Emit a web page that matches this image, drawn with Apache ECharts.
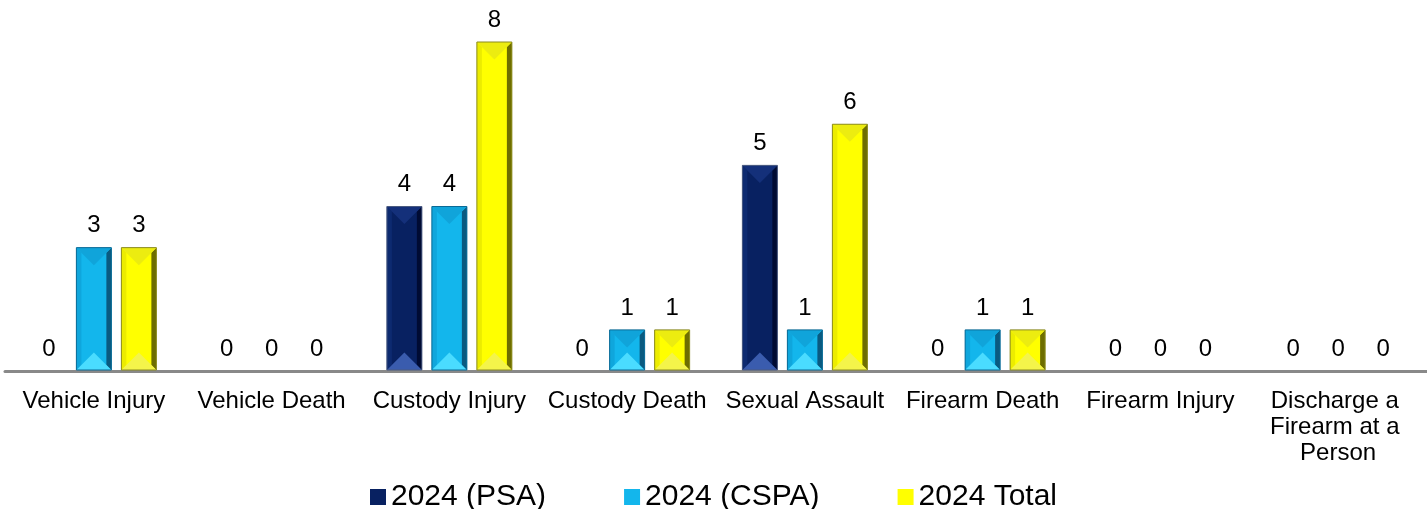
<!DOCTYPE html>
<html>
<head>
<meta charset="utf-8">
<script src="https://cdn.jsdelivr.net/npm/echarts@6/dist/echarts.min.js"></script>
<style>
  html, body { margin: 0; padding: 0; background: #fff; }
  #chart { width: 1427px; height: 509px; }
</style>
</head>
<body>
<div id="chart"></div>
<script>
const categories = ['Vehicle Injury', 'Vehicle Death', 'Custody Injury', 'Custody Death',
  'Sexual Assault', 'Firearm Death', 'Firearm Injury', 'Discharge a Firearm at a Person']
const psa = [0, 0, 4, 0, 5, 0, 0, 0]
const cspa = [3, 0, 4, 1, 1, 1, 0, 0]
const total = [3, 0, 8, 1, 6, 1, 0, 0]
const seriesNames = ['2024 (PSA)', '2024 (CSPA)', '2024 Total']

const FONT = 'Arial, "Liberation Sans", sans-serif'

// bevel colours: face, left strip, right strip, top triangle, bottom triangle, edge
const palettes = [
  { face: '#082161', left: '#0d2a70', right: '#000b33', top: '#14307a', bottom: '#3a5cae', edge: '#4a5a80' },
  { face: '#13b6ec', left: '#0fa6dc', right: '#0a5a80', top: '#10a4da', bottom: '#4adcff', edge: '#0a6a96' },
  { face: '#ffff00', left: '#ecec00', right: '#6e6e00', top: '#ecec10', bottom: '#f4f44a', edge: '#8a8a20' }
]

const BAR_W = 35
const STEP = 45

// 带斜面效果的柱子
const makeRender = (idx) => (params, api) => {
  const cat = api.value(0)
  const val = api.value(1)
  const p = palettes[idx]
  const base = api.coord([cat, 0])
  const topPt = api.coord([cat, val])
  const xm = base[0] + (idx - 1) * STEP
  const x0 = xm - BAR_W / 2
  const x1 = xm + BAR_W / 2
  const y0 = topPt[1]
  const y1 = base[1] - 1
  const children = []
  const h = y1 - y0
  if (h > 1) {
    const b = 5
    const t = Math.min(BAR_W / 2, h / 2)
    children.push(
      { type: 'rect', shape: { x: x0, y: y0, width: BAR_W, height: h }, style: { fill: p.face } },
      { type: 'polygon', shape: { points: [[x0, y0], [x0 + b, y0 + b], [x0 + b, y1 - b], [x0, y1]] }, style: { fill: p.left } },
      { type: 'polygon', shape: { points: [[x1, y0], [x1 - b, y0 + b], [x1 - b, y1 - b], [x1, y1]] }, style: { fill: p.right } },
      { type: 'polygon', shape: { points: [[x0, y0], [x1, y0], [xm, y0 + t]] }, style: { fill: p.top } },
      { type: 'polygon', shape: { points: [[x0, y1], [x1, y1], [xm, y1 - t]] }, style: { fill: p.bottom } },
      { type: 'rect', shape: { x: x0, y: y0, width: BAR_W, height: h }, style: { fill: null, stroke: p.edge, lineWidth: 1 } }
    )
  }
  children.push({
    type: 'text',
    style: {
      text: String(val), x: xm, y: y0 - 10,
      align: 'center', verticalAlign: 'bottom',
      font: '24px ' + FONT, fill: '#000'
    }
  })
  return { type: 'group', children }
}

const seriesData = [psa, cspa, total]

const chart = echarts.init(document.getElementById('chart'))
chart.setOption({
  animation: false,
  textStyle: { fontFamily: FONT },
  grid: { left: 5, right: 0, top: 42, bottom: 138 },
  legend: {
    top: 477,
    left: 'center',
    itemGap: 78,
    itemWidth: 16,
    itemHeight: 16,
    icon: 'rect',
    textStyle: { fontSize: 30, color: '#000', fontFamily: FONT },
    data: seriesNames
  },
  xAxis: {
    type: 'category',
    data: categories,
    axisLine: { lineStyle: { color: '#898989', width: 3 } },
    axisTick: { show: false },
    axisLabel: {
      interval: 0, margin: 17, fontSize: 24, color: '#000', lineHeight: 26,
      width: 168, overflow: 'break', fontFamily: FONT
    }
  },
  yAxis: { type: 'value', min: 0, max: 8, show: false, splitLine: { show: false } },
  series: seriesNames.map((name, i) => ({
    name,
    type: 'custom',
    renderItem: makeRender(i),
    itemStyle: { color: palettes[i].face },
    encode: { x: 0, y: 1 },
    data: seriesData[i].map((v, j) => [j, v])
  }))
})
</script>
</body>
</html>
